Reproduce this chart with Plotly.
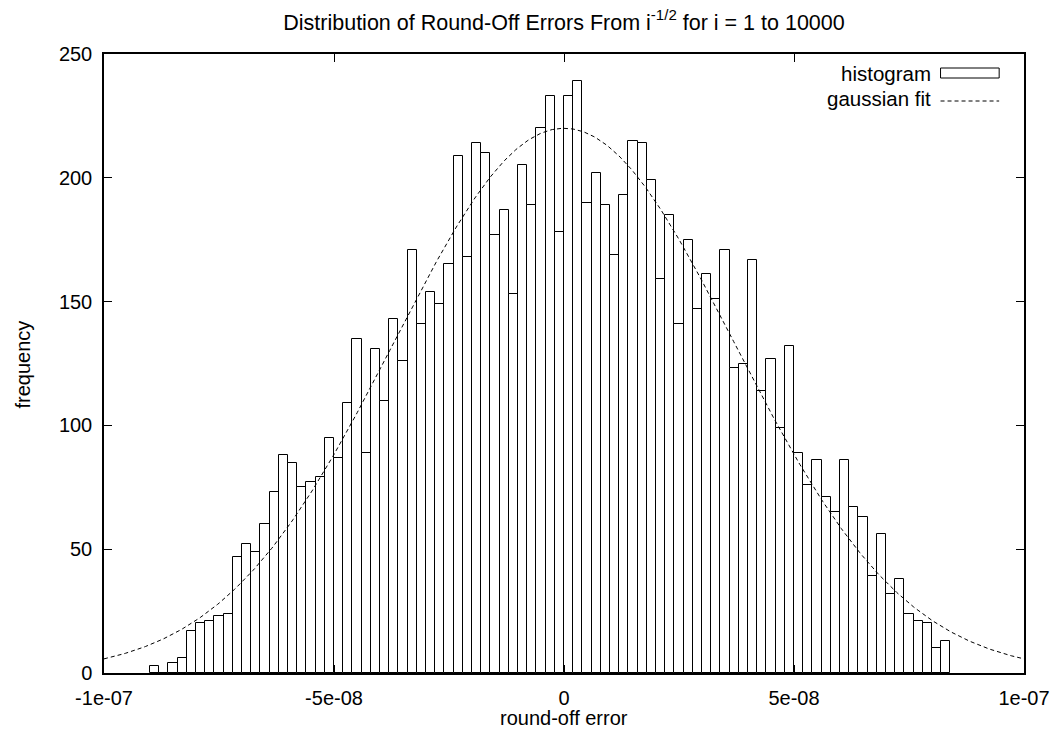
import plotly.graph_objects as go
import numpy as np

# ---- data ----
bin_start = -9.0e-8      # left edge of first bin
bin_width = 2.0e-9
counts = [3, 0, 4, 6, 17, 20, 21, 23, 24, 47,
          52, 49, 60, 73, 88, 85, 75, 77, 79, 95,
          87, 109, 135, 89, 131, 110, 143, 126, 171, 141,
          154, 149, 165, 209, 168, 214, 210, 177, 187, 153,
          205, 189, 220, 233, 178, 233, 239, 190, 202, 189,
          169, 193, 215, 214, 199, 159, 185, 141, 175, 147,
          161, 151, 171, 123, 125, 167, 114, 127, 99, 132,
          89, 76, 86, 71, 65, 86, 67, 63, 39, 56,
          32, 38, 24, 21, 20, 10, 13]

# gaussian fit parameters
fit_amplitude = 220.0
fit_mean = 0.0
fit_sigma = 3.70e-8

x_tick_vals = [-1e-7, -5e-8, 0, 5e-8, 1e-7]
x_tick_text = ["-1e-07", "-5e-08", "0", "5e-08", "1e-07"]
y_tick_vals = [0, 50, 100, 150, 200, 250]
y_tick_text = ["0", "50", "100", "150", "200", "250"]

title_text = "Distribution of Round-Off Errors From i<sup>-1/2</sup> for i = 1 to 10000"
x_title = "round-off error"
y_title = "frequency"
legend_labels = ["histogram", "gaussian fit"]

# ---- derived ----
centers = [bin_start + bin_width * (i + 0.5) for i in range(len(counts))]
xf = np.linspace(-1e-7, 1e-7, 600)
yf = fit_amplitude * np.exp(-((xf - fit_mean) ** 2) / (2 * fit_sigma ** 2))

FONT = "Liberation Sans, Arial, Helvetica, sans-serif"
FS_TICK = 20
FS_LEG = 20.5
FS_TITLE = 21.5
FS_AX = 20

fig = go.Figure()
fig.add_trace(go.Bar(
    x=centers, y=counts, width=bin_width,
    marker=dict(color="white", line=dict(color="black", width=1)),
    showlegend=False, name=legend_labels[0],
))
fig.add_trace(go.Scatter(
    x=xf, y=yf, mode="lines",
    line=dict(color="black", width=1, dash="4px,3px"),
    showlegend=False, name=legend_labels[1],
))

L, R, T, B = 104, 32, 54, 63
W, H = 1062, 736
pw, ph = W - L - R, H - T - B

def px(xp):
    return (xp - L) / pw

def py(yp):
    return (H - B - yp) / ph

axis_common = dict(
    showgrid=False, zeroline=False, showline=True, mirror="allticks",
    linecolor="black", linewidth=1.5, ticks="inside", ticklen=8,
    tickcolor="black", tickwidth=1,
    tickfont=dict(family=FONT, size=FS_TICK, color="black"),
)

fig.update_layout(
    width=W, height=H,
    margin=dict(l=L, r=R, t=T, b=B),
    paper_bgcolor="white", plot_bgcolor="white",
    bargap=0,
    font=dict(family=FONT, size=FS_TICK, color="black"),
    title=dict(text=title_text, x=0.5, xref="paper", xanchor="center",
               y=1 - 22 / H, yref="container", yanchor="middle",
               font=dict(family=FONT, size=FS_TITLE, color="black")),
    xaxis=dict(range=[-1e-7, 1e-7], tickvals=x_tick_vals, ticktext=x_tick_text,
               ticklabelstandoff=6, **axis_common),
    yaxis=dict(range=[0, 250], tickvals=y_tick_vals, ticktext=y_tick_text,
               ticklabelstandoff=6, **axis_common),
)

# axis titles
fig.add_annotation(text=x_title, xref="paper", yref="paper", x=px(567), y=py(718),
                   showarrow=False, xanchor="center", yanchor="middle",
                   font=dict(family=FONT, size=FS_AX, color="black"))
fig.add_annotation(text=y_title, xref="paper", yref="paper", x=px(22), y=py(365),
                   showarrow=False, xanchor="center", yanchor="middle", textangle=-90,
                   font=dict(family=FONT, size=FS_AX, color="black"))

# manual legend (text left of sample, as in the reference)
leg_y = [73, 98]
fig.add_annotation(text=legend_labels[0], xref="paper", yref="paper", x=px(938), y=py(leg_y[0]),
                   showarrow=False, xanchor="right", yanchor="middle",
                   font=dict(family=FONT, size=FS_LEG, color="black"))
fig.add_annotation(text=legend_labels[1], xref="paper", yref="paper", x=px(938), y=py(leg_y[1]),
                   showarrow=False, xanchor="right", yanchor="middle",
                   font=dict(family=FONT, size=FS_LEG, color="black"))
fig.add_shape(type="rect", xref="paper", yref="paper",
              x0=px(946), x1=px(1005), y0=py(leg_y[0] + 5), y1=py(leg_y[0] - 5),
              line=dict(color="black", width=1), fillcolor="white")
fig.add_shape(type="line", xref="paper", yref="paper",
              x0=px(946), x1=px(1005), y0=py(leg_y[1] + 3), y1=py(leg_y[1] + 3),
              line=dict(color="black", width=1, dash="4px,3px"))

fig.write_html("out.html", config={"displayModeBar": False},
               post_script="document.body.style.margin='0';document.body.style.overflow='hidden';")
